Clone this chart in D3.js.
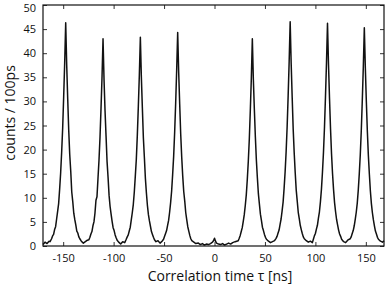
<!DOCTYPE html>
<html>
<head>
<meta charset="utf-8">
<script src="https://cdn.jsdelivr.net/npm/d3@7"></script>
<style>
  body { margin: 0; background: #fff; }
  svg { display: block; }
  .tick text { font-family: "Open Sans", "Noto Sans", sans-serif; font-size: 11px; fill: #111; }
  .label { font-family: "Open Sans", "Noto Sans", sans-serif; font-size: 14px; fill: #111; }
</style>
</head>
<body>
<svg id="chart" width="387" height="284"></svg>
<script>
// peak centres (ns) and peak histograms, one value per ns from -14 to +14 around each centre
const peakCenters = [-147.5, -110.5, -73.5, -36.5, 37.5, 75, 112, 148.5];
const peakOffsets = [-14,-13,-12,-11,-10,-9,-8,-7,-6,-5,-4,-3,-2,-1,0,1,2,3,4,5,6,7,8,9,10,11,12,13,14];
const peakCounts = [
  [1.5,2.1,2.4,3.4,4.0,5.6,7.2,8.8,11.8,15.2,19.5,24.5,31,38,46.3,37.5,30.5,24,19,15.5,11.2,9.2,6.8,5.5,4.4,3.1,2.7,1.9,1.5],
  [1.3,1.8,2.5,3.0,4.2,5.0,6.8,9.5,10.2,14,17.8,22.5,28.5,35,43,34.5,28,22.8,17.5,14.2,10.5,8.2,6.6,5.1,3.8,3.2,2.3,1.7,1.2],
  [1.4,1.9,2.3,3.1,3.9,5.4,6.9,8.6,11.2,14.5,18,23,29,35.5,43.3,35,28.6,22.4,18.3,14,11,8.4,6.5,5.2,4.1,3.0,2.4,1.8,1.3],
  [1.4,2.0,2.6,3.2,4.3,5.3,7.0,9.0,11.4,14.8,18.6,23.6,29.6,36.5,44.3,36,29.4,23.2,18.4,14.5,11.3,9.3,6.9,5.4,4.0,3.1,2.2,1.5,1.1],
  [1.1,1.6,2.2,3.0,3.8,5.1,6.5,8.4,10.6,13.8,17.6,22.2,28.2,34.8,43,34.6,28.3,22.6,17.8,14.1,10.8,8.7,6.6,5.3,3.9,3.2,2.4,1.8,1.4],
  [1.6,2.0,2.7,3.3,4.5,5.6,7.3,9.1,12,15.4,19.6,24.8,31.2,38.3,46.5,37.8,30.8,24.2,19.3,15.2,11.6,9.3,7.0,5.7,4.3,3.4,2.6,1.9,1.5],
  [1.4,2.1,2.6,3.5,4.3,5.8,7.1,9.2,11.8,15.3,19.4,24.6,31,38,46.2,37.6,30.6,24.3,19.1,15.0,11.7,9.0,7.1,5.5,4.4,3.3,2.5,2.0,1.4],
  [1.5,1.9,2.6,3.2,4.2,5.5,7.0,8.9,11.6,15.0,19.0,24.0,30.3,37.2,45.3,37,30,23.8,18.8,14.9,11.4,8.8,6.9,5.4,4.2,3.1,2.5,1.8,1.4]
];
// background between the peaks: time (ns) and counts
const gapTimes = [-170,-168,-166,-164,-163,
  -132,-130,-128,-126, -95,-93,-91,-89, -58,-56,-54,-52,
  -20.5,-18.5,-16,-14,-12,-10,-8,-6,-4,-2,-1,0,1,2,4,6,8,10,12,14,16,18,20.5,
  53.5,55.5,57.5,59.5, 91,93,95,97, 128,130,132, 164.5,166.5,168];
const gapCounts = [0.3,0.8,0.5,1.0,0.9,
  1.0,0.6,0.9,1.2, 0.8,0.4,0.9,0.7, 0.9,1.1,0.6,1.0,
  0.8,0.5,0.6,0.3,0.5,0.2,0.4,0.3,0.5,0.8,1.1,1.6,1.0,0.6,0.4,0.3,0.5,0.2,0.4,0.6,0.4,0.7,0.9,
  1.0,0.7,0.9,1.1, 1.1,0.8,1.0,0.7, 0.9,0.7,1.2, 1.0,0.8,1.1];

const xTicks = [-150, -100, -50, 0, 50, 100, 150];
const yTicks = [0, 5, 10, 15, 20, 25, 30, 35, 40, 45, 50];

// assemble the histogram
let points = [];
peakCenters.forEach(function(c, i) {
  peakOffsets.forEach(function(o, j) { points.push([c + o, peakCounts[i][j]]); });
});
gapTimes.forEach(function(t, i) { points.push([t, gapCounts[i]]); });
points.sort(function(a, b) { return a[0] - b[0]; });

const svg = d3.select('#chart');
const plotLeft = 43, plotTop = 5, plotRight = 384, plotBottom = 246;

const x = d3.scaleLinear().domain([-170, 168]).range([plotLeft, plotRight]);
const y = d3.scaleLinear().domain([0, 50]).range([plotBottom, plotTop]);

// data line
svg.append('path')
  .datum(points)
  .attr('fill', 'none')
  .attr('stroke', '#111')
  .attr('stroke-width', 1.5)
  .attr('stroke-linejoin', 'round')
  .attr('d', d3.line().x(function(d) { return x(d[0]); }).y(function(d) { return y(d[1]); }));

// axes with inward ticks, plain hyphen for negative numbers
let plain = function(d) { return String(d); };
function styleAxis(g) {
  g.select('.domain').remove();
  g.selectAll('.tick line').attr('stroke', '#333');
}
svg.append('g').attr('transform', `translate(0,${plotBottom})`)
  .call(d3.axisBottom(x).tickValues(xTicks).tickSizeInner(-4).tickSizeOuter(0).tickPadding(8).tickFormat(plain))
  .call(styleAxis);
svg.append('g').attr('transform', `translate(0,${plotTop})`)
  .call(d3.axisTop(x).tickValues(xTicks).tickSizeInner(-4).tickSizeOuter(0).tickFormat(''))
  .call(styleAxis);
let yAxis = svg.append('g').attr('transform', `translate(${plotLeft},0)`)
  .call(d3.axisLeft(y).tickValues(yTicks).tickSizeInner(-4).tickSizeOuter(0).tickPadding(7).tickFormat(plain))
  .call(styleAxis);
// keep the top label inside the window
yAxis.selectAll('.tick text').filter(function(d) { return d === 50; }).attr('y', 3);
svg.append('g').attr('transform', `translate(${plotRight},0)`)
  .call(d3.axisRight(y).tickValues(yTicks).tickSizeInner(-4).tickSizeOuter(0).tickFormat(''))
  .call(styleAxis);

// frame
svg.append('rect')
  .attr('x', plotLeft).attr('y', plotTop)
  .attr('width', plotRight - plotLeft).attr('height', plotBottom - plotTop)
  .attr('fill', 'none').attr('stroke', '#111').attr('stroke-width', 1.2);

// axis titles
svg.append('text').attr('class', 'label')
  .attr('x', 220).attr('y', 280.5)
  .attr('text-anchor', 'middle')
  .text('Correlation time τ [ns]');
svg.append('text').attr('class', 'label')
  .attr('transform', 'translate(15,113) rotate(-90)')
  .attr('text-anchor', 'middle')
  .text('counts / 100ps');
</script>
</body>
</html>
